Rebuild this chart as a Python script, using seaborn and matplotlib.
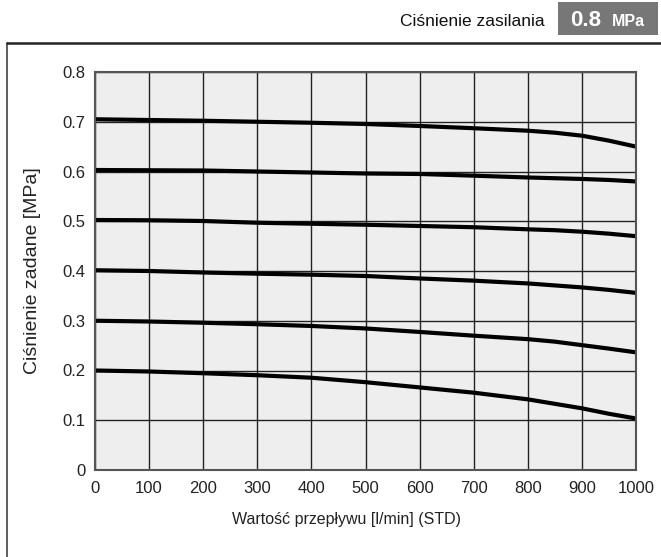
import matplotlib
matplotlib.use("Agg")
import matplotlib.pyplot as plt
import seaborn as sns
import pandas as pd
from matplotlib.lines import Line2D

flow = [0, 100, 200, 300, 400, 500, 600, 700, 800, 850, 900, 950, 1000]
p07 = [0.705, 0.7035, 0.702, 0.700, 0.698, 0.6955, 0.6915, 0.687, 0.682, 0.678, 0.672, 0.662, 0.650]
p06 = [0.603, 0.6025, 0.602, 0.600, 0.598, 0.596, 0.595, 0.5916, 0.588, 0.5865, 0.585, 0.583, 0.580]
p05 = [0.5025, 0.502, 0.5005, 0.497, 0.495, 0.493, 0.4905, 0.488, 0.4838, 0.482, 0.479, 0.475, 0.470]
p04 = [0.4015, 0.400, 0.397, 0.3946, 0.3926, 0.390, 0.385, 0.3806, 0.375, 0.371, 0.367, 0.362, 0.356]
p03 = [0.300, 0.2985, 0.296, 0.293, 0.2895, 0.2845, 0.2775, 0.270, 0.263, 0.258, 0.251, 0.244, 0.2365]
p02 = [0.200, 0.198, 0.1945, 0.1905, 0.1855, 0.1765, 0.166, 0.1554, 0.142, 0.133, 0.124, 0.113, 0.1035]
series = {"0.7": p07, "0.6": p06, "0.5": p05, "0.4": p04, "0.3": p03, "0.2": p02}

x_ticks = [0, 100, 200, 300, 400, 500, 600, 700, 800, 900, 1000]
y_ticks = [0, 0.1, 0.2, 0.3, 0.4, 0.5, 0.6, 0.7, 0.8]
y_tick_labels = ["0", "0.1", "0.2", "0.3", "0.4", "0.5", "0.6", "0.7", "0.8"]

rows = []
for name, vals in series.items():
    for xv, yv in zip(flow, vals):
        rows.append({"flow": xv, "pressure": yv, "set": name})
df = pd.DataFrame(rows)

sns.set_style("white")
plt.rcParams["font.family"] = ["Liberation Sans", "DejaVu Sans"]

fig = plt.figure(figsize=(6.61, 5.57), dpi=100)
ax = fig.add_axes([95 / 661, 1 - 470 / 557, (636 - 95) / 661, (470 - 72) / 557])
ax.set_facecolor("#eeeeee")

sns.lineplot(data=df, x="flow", y="pressure", units="set", estimator=None,
             color="black", linewidth=3.0, ax=ax, legend=False,
             solid_joinstyle="round", solid_capstyle="butt")

ax.set_xlim(0, 1000)
ax.set_ylim(0, 0.8)
ax.set_xticks(x_ticks)
ax.set_xticklabels([str(v) for v in x_ticks], fontsize=12, color="#222222")
ax.set_yticks(y_ticks)
ax.set_yticklabels(y_tick_labels, fontsize=12, color="#222222")
ax.tick_params(axis="both", length=0)
ax.tick_params(axis="y", pad=7)
ax.tick_params(axis="x", pad=8)
ax.grid(True, color="#222222", linewidth=1.0)
ax.set_axisbelow(True)
for s in ax.spines.values():
    s.set_visible(True)
    s.set_color("#555555")
    s.set_linewidth(1.5)

ax.set_xlabel("Wartość przepływu [l/min] (STD)", fontsize=11.5, color="#222222")
ax.xaxis.set_label_coords((346.5 - 95) / 541, (470 - 512) / 398)
ax.set_ylabel("Ciśnienie zadane [MPa]", fontsize=14, color="#222222")
ax.yaxis.set_label_coords((41 - 95) / 541, 0.5)

# outer frame: left and top lines
fig.add_artist(Line2D([7 / 661, 7 / 661], [0, 1 - 43 / 557], transform=fig.transFigure,
                      color="#444444", linewidth=1.2))
fig.add_artist(Line2D([7 / 661, 1.0], [1 - 43 / 557, 1 - 43 / 557], transform=fig.transFigure,
                      color="#222222", linewidth=1.8))

# header
fig.text(545 / 661, 1 - 26 / 557, "Ciśnienie zasilania", ha="right", va="baseline",
         fontsize=12.5, color="#111111")
fig.patches.append(plt.Rectangle((558 / 661, 1 - 35 / 557), 100 / 661, 33 / 557,
                                 transform=fig.transFigure, facecolor="#777777",
                                 edgecolor="none", figure=fig))
fig.text(570 / 661, 1 - 26 / 557, "0.8", ha="left", va="baseline", fontsize=16,
         fontweight="bold", color="white")
fig.text(612 / 661, 1 - 26 / 557, "MPa", ha="left", va="baseline", fontsize=11.5,
         fontweight="bold", color="white")

fig.savefig("out.png", dpi=100)
